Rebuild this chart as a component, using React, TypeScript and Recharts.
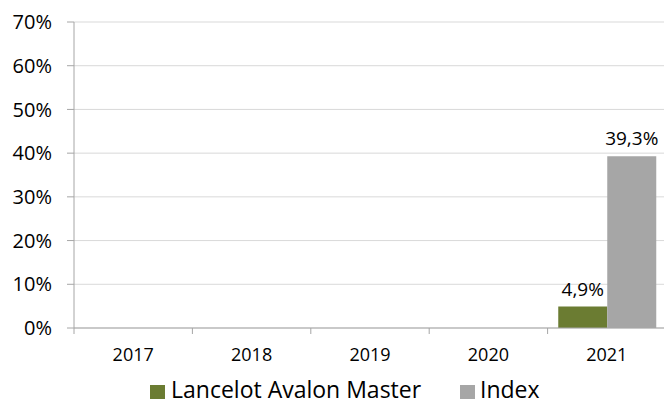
import React from 'react';
import { BarChart, Bar, XAxis, YAxis, CartesianGrid, Legend, LabelList } from 'recharts';

if (typeof document !== 'undefined') {
  document.body.style.margin = '0';
  document.documentElement.style.overflow = 'hidden';
  document.body.style.overflow = 'hidden';
}

const categories = ['2017', '2018', '2019', '2020', '2021'];
const lancelotValues: (number | null)[] = [null, null, null, null, 4.9];
const indexValues: (number | null)[] = [null, null, null, null, 39.3];
const yTicks = [0, 10, 20, 30, 40, 50, 60, 70];
const seriesNames = ['Lancelot Avalon Master', 'Index'];
const seriesColors = ['#6b7c32', '#a6a6a6'];

const data = categories.map((c, i) => ({
  year: c,
  lancelot: lancelotValues[i],
  index: indexValues[i],
}));

const FONT = '"Open Sans", sans-serif';
const CHART_W = 670;
const MARGIN_LEFT = 0;
const MARGIN_RIGHT = 4;
const Y_W = 74;
const BAND = (CHART_W - MARGIN_LEFT - MARGIN_RIGHT - Y_W) / categories.length;

const XTick = (props: any) => {
  const { x, y, payload } = props;
  const ay = y - 8;
  const bx = x - BAND / 2;
  return (
    <g>
      <line x1={bx} y1={ay} x2={bx} y2={ay + 6} stroke="#a6a6a6" strokeWidth={1} />
      <text x={x} y={ay + 20} dy="0.71em" textAnchor="middle" fontFamily={FONT} fontSize={18} fill="#000">
        {payload.value}
      </text>
    </g>
  );
};

const fmt = (v: any) => (v === null || v === undefined ? '' : Number(v).toFixed(1).replace('.', ',') + '%');

const LegendContent = () => (
  <div style={{ position: 'relative', width: 664, height: 19, fontFamily: FONT, fontSize: 23, color: '#000' }}>
    <div style={{ position: 'absolute', left: 150, top: 5, width: 15, height: 14, background: seriesColors[0] }} />
    <div style={{ position: 'absolute', left: 171, top: 0, lineHeight: '18px', whiteSpace: 'nowrap' }}>{seriesNames[0]}</div>
    <div style={{ position: 'absolute', left: 460, top: 5, width: 15, height: 14, background: seriesColors[1] }} />
    <div style={{ position: 'absolute', left: 480, top: 0, lineHeight: '18px', whiteSpace: 'nowrap' }}>{seriesNames[1]}</div>
  </div>
);

export default function App() {
  return (
    <div style={{ width: 664, height: 401, overflow: 'hidden', background: '#fff', position: 'relative' }}>
      <BarChart
        width={CHART_W}
        height={401}
        data={data}
        margin={{ top: 22, right: MARGIN_RIGHT, left: MARGIN_LEFT, bottom: 0 }}
        barCategoryGap="9%"
        barGap={0}
      >
        <CartesianGrid horizontal vertical={false} stroke="#d9d9d9" strokeWidth={1} />
        <XAxis
          dataKey="year"
          height={54}
          axisLine={{ stroke: '#a6a6a6' }}
          tickLine={false}
          tick={<XTick />}
          interval={0}
        />
        <YAxis
          width={Y_W}
          domain={[0, 70]}
          ticks={yTicks}
          interval={0}
          axisLine={{ stroke: '#a6a6a6' }}
          tickLine={{ stroke: '#a6a6a6' }}
          tickSize={7}
          tickMargin={15}
          tickFormatter={(v: number) => `${v}%`}
          tick={{ fontFamily: FONT, fontSize: 20, fill: '#000' }}
        />
        <Legend
          verticalAlign="bottom"
          height={19}
          content={<LegendContent />}
          wrapperStyle={{ position: 'absolute', top: 380, bottom: 'auto', left: 0, width: 664, height: 19 }}
        />
        <Bar dataKey="lancelot" name={seriesNames[0]} fill={seriesColors[0]} isAnimationActive={false}>
          <LabelList dataKey="lancelot" position="top" offset={11} formatter={fmt} style={{ fontFamily: FONT, fontSize: 19, fill: '#000' }} />
        </Bar>
        <Bar dataKey="index" name={seriesNames[1]} fill={seriesColors[1]} isAnimationActive={false}>
          <LabelList dataKey="index" position="top" offset={11} formatter={fmt} style={{ fontFamily: FONT, fontSize: 19, fill: '#000' }} />
        </Bar>
      </BarChart>
    </div>
  );
}
